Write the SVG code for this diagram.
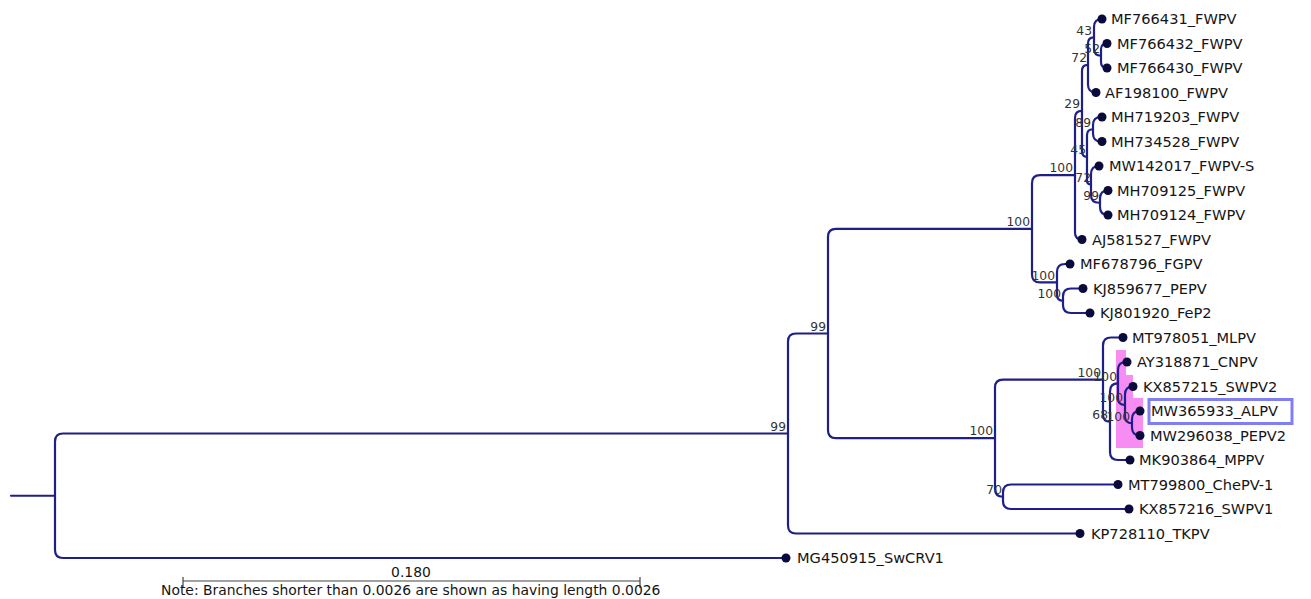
<svg xmlns="http://www.w3.org/2000/svg" width="1311" height="599" viewBox="0 0 1311 599">
<style>
.br{fill:none;stroke:#1f1f88;stroke-width:2.2;stroke-linecap:round;stroke-linejoin:round}
.dot{fill:#0b0b3b}
.lf{font-family:"DejaVu Sans","Liberation Sans",sans-serif;font-size:14.6px;fill:#151515}
.bs{font-family:"DejaVu Sans","Liberation Sans",sans-serif;font-size:12.3px;fill:#333;text-anchor:end}
.nt{font-family:"DejaVu Sans","Liberation Sans",sans-serif;font-size:13.9px;fill:#151515}
</style>
<rect width="1311" height="599" fill="#ffffff"/>
<g id="highlight">
<polygon points="1116,350 1126,350 1126,375 1133,375 1133,398 1143,398 1143,448 1116,448" fill="#f78cf2"/>
</g>
<g id="connectors">
<path class="br" d="M11 495.75 H55"/>
<path class="br" d="M55 495.75 V441.5 Q55 433.5 63 433.5 H788"/>
<path class="br" d="M55 495.75 V550 Q55 558 63 558 H786"/>
<path class="br" d="M788 433.5 V341.5 Q788 333.5 796 333.5 H828"/>
<path class="br" d="M788 433.5 V525.5 Q788 533.5 796 533.5 H1080"/>
<path class="br" d="M828 333.5 V236.8 Q828 228.8 836 228.8 H1032"/>
<path class="br" d="M828 333.5 V430.2 Q828 438.2 836 438.2 H995"/>
<path class="br" d="M1032 228.8 V183.2 Q1032 175.2 1040 175.2 H1075"/>
<path class="br" d="M1032 228.8 V274.4 Q1032 282.4 1040 282.4 H1057"/>
<path class="br" d="M1075 175.2 V117.9 Q1075 110.9 1082 110.9"/>
<path class="br" d="M1075 175.2 V232.5 Q1075 239.5 1082 239.5"/>
<path class="br" d="M1082 110.9 V70.9 Q1082 64.9 1088 64.9"/>
<path class="br" d="M1082 110.9 V151.8 Q1082 156.8 1087 156.8"/>
<path class="br" d="M1088 64.9 V43.4 Q1088 37.4 1094 37.4"/>
<path class="br" d="M1088 64.9 V84.5 Q1088 92.5 1096 92.5"/>
<path class="br" d="M1094 37.4 V27 Q1094 19 1102 19"/>
<path class="br" d="M1094 37.4 V48.75 Q1094 55.75 1101 55.75"/>
<path class="br" d="M1101 55.75 V49.5 Q1101 43.5 1107 43.5"/>
<path class="br" d="M1101 55.75 V62 Q1101 68 1107 68"/>
<path class="br" d="M1087 156.8 V135.25 Q1087 129.25 1093 129.25"/>
<path class="br" d="M1087 156.8 V180.4 Q1087 184.4 1091 184.4"/>
<path class="br" d="M1093 129.25 V125 Q1093 117 1101 117 H1102"/>
<path class="br" d="M1093 129.25 V133.5 Q1093 141.5 1101 141.5 H1102"/>
<path class="br" d="M1091 184.4 V174 Q1091 166 1099 166"/>
<path class="br" d="M1091 184.4 V194.75 Q1091 202.75 1099 202.75 H1100"/>
<path class="br" d="M1100 202.75 V198.5 Q1100 190.5 1108 190.5"/>
<path class="br" d="M1100 202.75 V207 Q1100 215 1108 215"/>
<path class="br" d="M1057 282.4 V272 Q1057 264 1065 264 H1070"/>
<path class="br" d="M1057 282.4 V294.75 Q1057 300.75 1063 300.75"/>
<path class="br" d="M1063 300.75 V296.5 Q1063 288.5 1071 288.5 H1083"/>
<path class="br" d="M1063 300.75 V305 Q1063 313 1071 313 H1090"/>
<path class="br" d="M995 438.2 V387.6 Q995 379.6 1003 379.6 H1103"/>
<path class="br" d="M995 438.2 V488.75 Q995 496.75 1003 496.75"/>
<path class="br" d="M1003 496.75 V492.5 Q1003 484.5 1011 484.5 H1118"/>
<path class="br" d="M1003 496.75 V501 Q1003 509 1011 509 H1129"/>
<path class="br" d="M1103 379.6 V345.5 Q1103 337.5 1111 337.5 H1123"/>
<path class="br" d="M1103 379.6 V414.7 Q1103 421.7 1110 421.7"/>
<path class="br" d="M1110 421.7 V391.4 Q1110 383.4 1118 383.4"/>
<path class="br" d="M1110 421.7 V452 Q1110 460 1118 460 H1130"/>
<path class="br" d="M1118 383.4 V370 Q1118 362 1126 362 H1127"/>
<path class="br" d="M1118 383.4 V397.9 Q1118 404.9 1125 404.9"/>
<path class="br" d="M1125 404.9 V394.5 Q1125 386.5 1133 386.5"/>
<path class="br" d="M1125 404.9 V416.25 Q1125 423.25 1132 423.25"/>
<path class="br" d="M1132 423.25 V419 Q1132 411 1140 411"/>
<path class="br" d="M1132 423.25 V427.5 Q1132 435.5 1140 435.5"/>
</g>
<g id="support">
<text class="bs" x="786" y="431">99</text>
<text class="bs" x="826" y="331">99</text>
<text class="bs" x="1030" y="226">100</text>
<text class="bs" x="993" y="435">100</text>
<text class="bs" x="1073" y="172">100</text>
<text class="bs" x="1080" y="108">29</text>
<text class="bs" x="1087" y="62">72</text>
<text class="bs" x="1092" y="35">43</text>
<text class="bs" x="1100" y="53">52</text>
<text class="bs" x="1086" y="154">45</text>
<text class="bs" x="1091" y="127">89</text>
<text class="bs" x="1091" y="182">72</text>
<text class="bs" x="1099" y="200">99</text>
<text class="bs" x="1055" y="280">100</text>
<text class="bs" x="1061" y="298">100</text>
<text class="bs" x="1101" y="377">100</text>
<text class="bs" x="1117" y="381">100</text>
<text class="bs" x="1123" y="402">100</text>
<text class="bs" x="1108" y="419">68</text>
<text class="bs" x="1130" y="421">100</text>
<text class="bs" x="1002" y="494">70</text>
</g>
<g id="MF766431"><circle class="dot" cx="1102" cy="19" r="4.5"/><text class="lf" x="1111" y="24">MF766431_FWPV</text></g>
<g id="MF766432"><circle class="dot" cx="1107" cy="43.5" r="4.5"/><text class="lf" x="1117" y="48.5">MF766432_FWPV</text></g>
<g id="MF766430"><circle class="dot" cx="1107" cy="68" r="4.5"/><text class="lf" x="1117" y="73">MF766430_FWPV</text></g>
<g id="AF198100"><circle class="dot" cx="1096" cy="92.5" r="4.5"/><text class="lf" x="1105" y="97.5">AF198100_FWPV</text></g>
<g id="MH719203"><circle class="dot" cx="1102" cy="117" r="4.5"/><text class="lf" x="1111" y="122">MH719203_FWPV</text></g>
<g id="MH734528"><circle class="dot" cx="1102" cy="141.5" r="4.5"/><text class="lf" x="1111" y="146.5">MH734528_FWPV</text></g>
<g id="MW142017"><circle class="dot" cx="1099" cy="166" r="4.5"/><text class="lf" x="1109" y="171">MW142017_FWPV-S</text></g>
<g id="MH709125"><circle class="dot" cx="1108" cy="190.5" r="4.5"/><text class="lf" x="1117" y="195.5">MH709125_FWPV</text></g>
<g id="MH709124"><circle class="dot" cx="1108" cy="215" r="4.5"/><text class="lf" x="1117" y="220">MH709124_FWPV</text></g>
<g id="AJ581527"><circle class="dot" cx="1082" cy="239.5" r="4.5"/><text class="lf" x="1092" y="244.5">AJ581527_FWPV</text></g>
<g id="MF678796"><circle class="dot" cx="1070" cy="264" r="4.5"/><text class="lf" x="1080" y="269">MF678796_FGPV</text></g>
<g id="KJ859677"><circle class="dot" cx="1083" cy="288.5" r="4.5"/><text class="lf" x="1093" y="293.5">KJ859677_PEPV</text></g>
<g id="KJ801920"><circle class="dot" cx="1090" cy="313" r="4.5"/><text class="lf" x="1100" y="318">KJ801920_FeP2</text></g>
<g id="MT978051"><circle class="dot" cx="1123" cy="337.5" r="4.5"/><text class="lf" x="1132" y="342.5">MT978051_MLPV</text></g>
<g id="AY318871"><circle class="dot" cx="1127" cy="362" r="4.5"/><text class="lf" x="1137" y="367">AY318871_CNPV</text></g>
<g id="KX857215"><circle class="dot" cx="1133" cy="386.5" r="4.5"/><text class="lf" x="1143" y="391.5">KX857215_SWPV2</text></g>
<g id="MW365933"><rect x="1149" y="399.5" width="143" height="24" fill="none" stroke="#7f7ff2" stroke-width="3"/><circle class="dot" cx="1140" cy="411" r="4.5"/><text class="lf" x="1151" y="416">MW365933_ALPV</text></g>
<g id="MW296038"><circle class="dot" cx="1140" cy="435.5" r="4.5"/><text class="lf" x="1150" y="440.5">MW296038_PEPV2</text></g>
<g id="MK903864"><circle class="dot" cx="1130" cy="460" r="4.5"/><text class="lf" x="1139" y="465">MK903864_MPPV</text></g>
<g id="MT799800"><circle class="dot" cx="1118" cy="484.5" r="4.5"/><text class="lf" x="1128" y="489.5">MT799800_ChePV-1</text></g>
<g id="KX857216"><circle class="dot" cx="1129" cy="509" r="4.5"/><text class="lf" x="1139" y="514">KX857216_SWPV1</text></g>
<g id="KP728110"><circle class="dot" cx="1080" cy="533.5" r="4.5"/><text class="lf" x="1091" y="538.5">KP728110_TKPV</text></g>
<g id="MG450915"><circle class="dot" cx="786" cy="558" r="4.5"/><text class="lf" x="797" y="563">MG450915_SwCRV1</text></g>
<g id="scale">
<path d="M183 581 H640 M183 577 V588 M640 577 V588" fill="none" stroke="#444" stroke-width="1.2"/>
<text class="nt" x="411" y="577" text-anchor="middle">0.180</text>
<text class="nt" x="161" y="595">Note: Branches shorter than 0.0026 are shown as having length 0.0026</text>
</g>
</svg>
